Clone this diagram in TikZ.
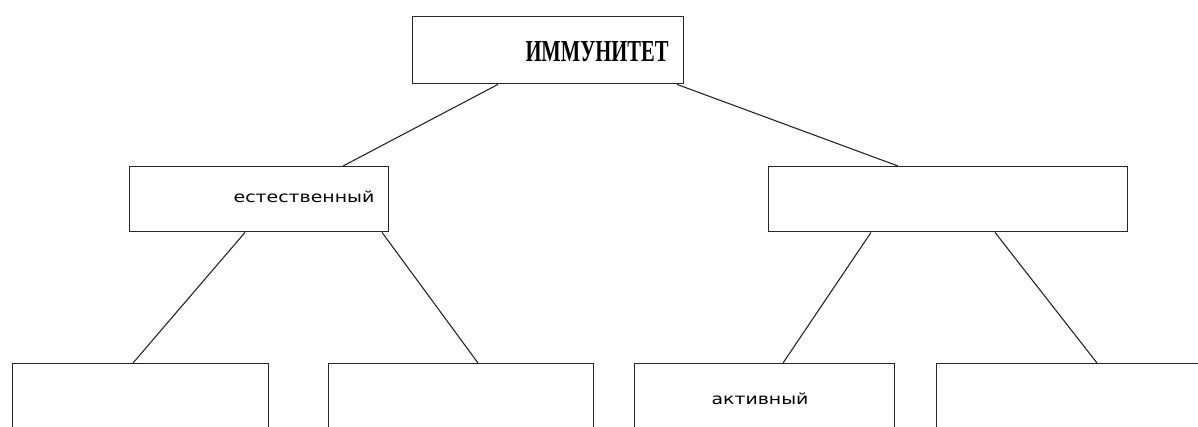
\documentclass[tikz,border=0pt]{standalone}
\usepackage{fontspec}
\newfontfamily\titlef{Liberation Serif}
\newfontfamily\labf{DejaVu Sans}
\begin{document}
\begin{tikzpicture}[x=1pt,y=-1pt,
  box/.style={draw=black!85,line width=1.4pt,anchor=north west,inner sep=0pt,minimum height=#1},
  box/.default=65pt,
  link/.style={draw=black!85,line width=1.1pt},
  titlelab/.style={inner sep=0pt,font=\titlef\bfseries\fontsize{20}{20}\selectfont},
  lab/.style={inner sep=0pt,font=\labf\fontsize{18}{18}\selectfont}]
\useasboundingbox (0,0) rectangle (1198,426);
\clip (0,0) rectangle (1198,426);
\node[box=67pt,minimum width=271pt] (top) at (412,16) {};
\node[box,minimum width=259pt] (ml) at (129,166) {};
\node[box,minimum width=359pt] (mr) at (768,166) {};
\node[box=90pt,minimum width=256pt] (b1) at (12,363) {};
\node[box=90pt,minimum width=265pt] (b2) at (328,363) {};
\node[box=90pt,minimum width=260pt] (b3) at (634,363) {};
\node[box=90pt,minimum width=290pt] (b4) at (936,363) {};
\node[titlelab] (t0) at (597,52) {\resizebox{143pt}{20pt}{ИММУНИТЕТ}};
\node[lab] (t1) at (304,197) {\scalebox{1.05}[0.85]{естественный}};
\node[lab] (t2) at (760,399) {\scalebox{1.05}[0.85]{активный}};
\draw[link] ([xshift=86pt]top.south west) -- ([xshift=214pt]ml.north west);
\draw[link] ([xshift=265pt]top.south west) -- ([xshift=130pt]mr.north west);
\draw[link] ([xshift=116pt]ml.south west) -- ([xshift=121pt]b1.north west);
\draw[link] ([xshift=253pt]ml.south west) -- ([xshift=150pt]b2.north west);
\draw[link] ([xshift=103pt]mr.south west) -- ([xshift=149pt]b3.north west);
\draw[link] ([xshift=227pt]mr.south west) -- ([xshift=161pt]b4.north west);
\end{tikzpicture}
\end{document}
